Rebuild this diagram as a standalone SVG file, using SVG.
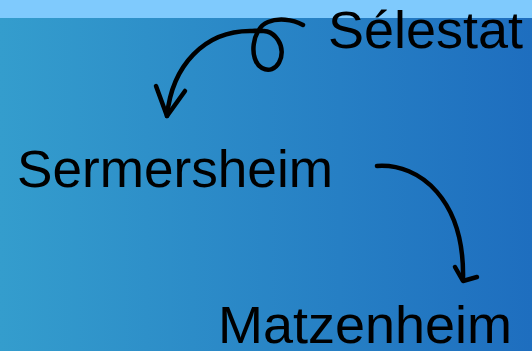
<svg xmlns="http://www.w3.org/2000/svg" width="532" height="351" viewBox="0 0 532 351">
<defs>
<linearGradient id="bg" x1="0" y1="0" x2="1" y2="0">
<stop offset="0" stop-color="#349dcd"/>
<stop offset="1" stop-color="#1e6ebf"/>
</linearGradient>
</defs>
<style>
.lbl{font-family:"Liberation Sans",Arial,Helvetica,sans-serif;font-size:51px;fill:#000}
.arr{fill:none;stroke:#000;stroke-width:4.5;stroke-linecap:round;stroke-linejoin:round}
</style>
<rect x="0" y="0" width="532" height="351" fill="url(#bg)"/>
<rect x="0" y="0" width="532" height="18" fill="#7fcafd"/>
<g id="connectors">
<path class="arr" d="M303,25 C292,19 278,18 268,22 C252,28 248,60 262,68 C276,76 288,55 278,40 C270,28 260,31 250,31 C205,31 172,65 167,116"/>
<path class="arr" d="M156,86 L167,116 L185,91"/>
<path class="arr" d="M377,166 C420,163 465,200 463,280"/>
<path class="arr" d="M455,267 L463,281 L477,277"/>
</g>
<g id="node-selestat"><text class="lbl" x="328" y="48" textLength="195" lengthAdjust="spacingAndGlyphs">Sélestat</text></g>
<g id="node-sermersheim"><text class="lbl" x="17" y="187" textLength="316" lengthAdjust="spacingAndGlyphs">Sermersheim</text></g>
<g id="node-matzenheim"><text class="lbl" x="218" y="343" textLength="294" lengthAdjust="spacingAndGlyphs">Matzenheim</text></g>
</svg>
